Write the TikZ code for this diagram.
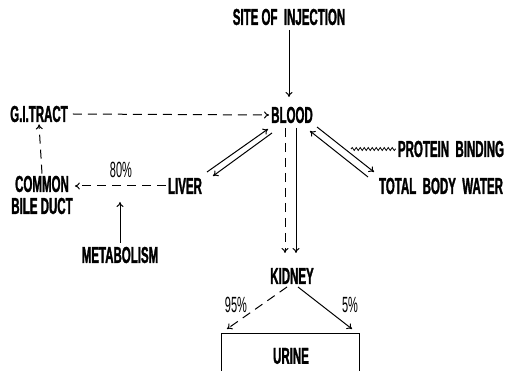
\documentclass[tikz,border=0pt]{standalone}
\usepackage{fontspec}
\setmainfont{Liberation Sans}[FakeStretch=0.5, BoldFeatures={FakeBold=1.3}]
\usetikzlibrary{arrows.meta,decorations.pathmorphing}
\begin{document}
\begin{tikzpicture}[x=1pt,y=-1pt,
  lbl/.style={font=\fontsize{23}{24}\selectfont\bfseries, inner sep=2pt},
  pct/.style={font=\fontsize{22}{24}\selectfont, inner sep=1pt},
  conn/.style={line width=1pt, -{To[length=5pt,width=7pt]}},
  dconn/.style={conn, dash pattern=on 9pt off 6pt}]
\useasboundingbox (0,0) rectangle (514,371);
\clip (0,0) rectangle (514,371);
\node[lbl] (site) at (289,17) {SITE OF\ \ INJECTION};
\node[lbl] (blood) at (292,115) {BLOOD};
\node[lbl] (gi) at (39,114) {G.I.TRACT};
\node[lbl] (liver) at (185,186) {LIVER};
\node[lbl, align=center] (cbd) at (42,195) {COMMON\\[-2pt]BILE DUCT};
\node[lbl] (metab) at (120,255) {METABOLISM};
\node[lbl] (pb) at (451,149) {PROTEIN\ \ BINDING};
\node[lbl] (tbw) at (441,186) {TOTAL\ \ BODY\ \ WATER};
\node[lbl] (kidney) at (292,276) {KIDNEY};
\node[lbl] (urine) at (291,356) {URINE};
\draw[line width=1pt] (221,333) rectangle (359,390);
% connectors
\draw[conn] (289,30) coordinate (st) -- (289,97) coordinate (bt);
\draw[dconn] (gi.east) ++(3,0) -- (blood.west);
\draw[dconn] (liver.west) -- (cbd.east |- liver.west);
\node[pct] (p80) at (121,170) {80\%};
\draw[dconn] (cbd.north) -- (gi.south);
\draw[conn] (120,243) coordinate (mb) -- (120,202) coordinate (mt);
% blood - liver
\coordinate (bl1) at (207,172); \coordinate (bl2) at (268,129);
\coordinate (bl3) at (272,133); \coordinate (bl4) at (213,176);
\draw[conn] (bl1) -- (bl2);
\draw[conn] (bl3) -- (bl4);
% blood - total body water
\coordinate (bw1) at (317,127); \coordinate (bw2) at (374,172);
\coordinate (bw3) at (368,177); \coordinate (bw4) at (310,131);
\draw[conn] (bw1) -- (bw2);
\draw[conn] (bw3) -- (bw4);
% protein binding wavy
\draw[line width=0.8pt, decorate, decoration={snake, amplitude=1.5pt, segment length=4pt}] (351,149) -- (pb.west);
% blood - kidney
\coordinate (bk1) at (285,128); \coordinate (bk2) at (285,253);
\coordinate (bk3) at (296,128); \coordinate (bk4) at (296,253);
\draw[dconn] (bk1) -- (bk2);
\draw[conn] (bk3) -- (bk4);
% kidney - urine
\coordinate (ku1) at (227,329); \coordinate (ku2) at (352,329);
\draw[dconn] (287,287) coordinate (k1) -- (ku1);
\draw[conn] (298,287) coordinate (k2) -- (ku2);
\node[pct] (p95) at (236,305) {95\%};
\node[pct] (p5) at (350,305) {5\%};
\end{tikzpicture}
\end{document}
